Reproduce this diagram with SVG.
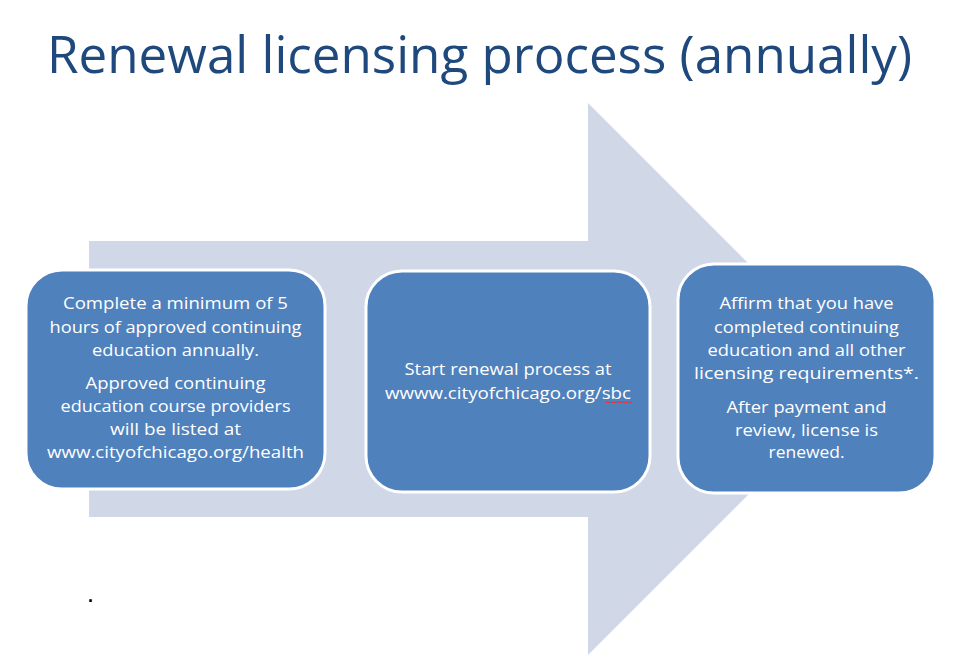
<svg xmlns="http://www.w3.org/2000/svg" width="959" height="660" viewBox="0 0 959 660">
<style>
.box{fill:#4F81BD;stroke:#FFFFFF;stroke-width:3}
.t{font-family:"Open Sans","Liberation Sans",sans-serif;font-size:16.5px;fill:#FFFFFF;text-anchor:middle}
.title{font-family:"Open Sans","Liberation Sans",sans-serif;font-size:52px;fill:#1F497D;text-anchor:middle}
</style>
<rect width="959" height="660" fill="#FFFFFF"/>
<text class="title" x="479.5" y="73" textLength="865" lengthAdjust="spacingAndGlyphs">Renewal licensing process (annually)</text>
<g id="connectors">
<polygon id="arrow" points="89,241 588,241 588,103 864,379 588,655 588,517 89,517" fill="#D0D8E8"/>
</g>
<g id="node1">
<rect class="box" x="26" y="270" width="299" height="219" rx="36"/>
<text class="t" x="175.5" y="309" textLength="225" lengthAdjust="spacingAndGlyphs">Complete a minimum of 5</text>
<text class="t" x="175.5" y="333" textLength="252" lengthAdjust="spacingAndGlyphs">hours of approved continuing</text>
<text class="t" x="175.5" y="356" textLength="167" lengthAdjust="spacingAndGlyphs">education annually.</text>
<text class="t" x="175.5" y="389" textLength="180" lengthAdjust="spacingAndGlyphs">Approved continuing</text>
<text class="t" x="175.5" y="412" textLength="230" lengthAdjust="spacingAndGlyphs">education course providers</text>
<text class="t" x="175.5" y="435" textLength="131" lengthAdjust="spacingAndGlyphs">will be listed at</text>
<text class="t" x="175.5" y="458" textLength="257" lengthAdjust="spacingAndGlyphs">www.cityofchicago.org/health</text>
</g>
<g id="node2">
<rect class="box" x="366" y="271" width="284" height="221" rx="36"/>
<text class="t" x="508" y="375" textLength="207" lengthAdjust="spacingAndGlyphs">Start renewal process at</text>
<text class="t" x="508" y="399" textLength="246" lengthAdjust="spacingAndGlyphs">wwww.cityofchicago.org/sbc</text>
<path d="M606,403 l1.5,-1.5 l1.5,1.5 l1.5,-1.5 l1.5,1.5 l1.5,-1.5 l1.5,1.5 l1.5,-1.5 l1.5,1.5 l1.5,-1.5 l1.5,1.5 l1.5,-1.5 l1.5,1.5 l1.5,-1.5 l1.5,1.5 l1.5,-1.5 l1.5,1.5 l1.5,-1.5" fill="none" stroke="#E0303A" stroke-width="1"/>
</g>
<g id="node3">
<rect class="box" x="678" y="264" width="257" height="229" rx="36"/>
<text class="t" x="806.5" y="309" textLength="174" lengthAdjust="spacingAndGlyphs">Affirm that you have</text>
<text class="t" x="806.5" y="333" textLength="185" lengthAdjust="spacingAndGlyphs">completed continuing</text>
<text class="t" x="806.5" y="356" textLength="198" lengthAdjust="spacingAndGlyphs">education and all other</text>
<text class="t" x="806.5" y="379" textLength="225" lengthAdjust="spacingAndGlyphs">licensing requirements*.</text>
<text class="t" x="806.5" y="413" textLength="160" lengthAdjust="spacingAndGlyphs">After payment and</text>
<text class="t" x="806.5" y="436" textLength="143" lengthAdjust="spacingAndGlyphs">review, license is</text>
<text class="t" x="806.5" y="458" textLength="76" lengthAdjust="spacingAndGlyphs">renewed.</text>
</g>
<text x="88" y="602" font-family="Liberation Sans, sans-serif" font-size="18" font-weight="bold" fill="#000000">.</text>
</svg>
